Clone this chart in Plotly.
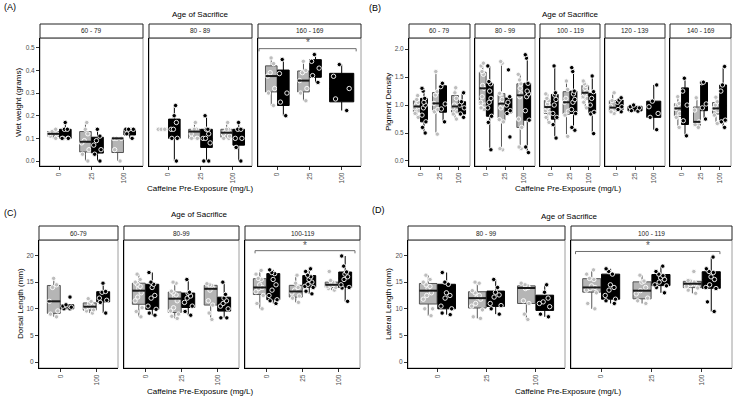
import statistics
import plotly.graph_objects as go

W, H = 733, 398

# ---------------- DATA ----------------
# Panel A: Wet weight (grams)
wet_60_79_gray = {"0": [0.10, 0.11, 0.12, 0.12, 0.13, 0.14],
                  "25": [0.0, 0.03, 0.05, 0.08, 0.09, 0.12, 0.14, 0.17],
                  "100": [0.0, 0.05, 0.10, 0.10, 0.10]}
wet_60_79_black = {"0": [0.10, 0.10, 0.10, 0.10, 0.14, 0.14, 0.17],
                   "25": [0.0, 0.03, 0.05, 0.07, 0.09, 0.11, 0.14],
                   "100": [0.10, 0.12, 0.14, 0.14, 0.14]}
wet_80_89_gray = {"0": [0.14, 0.14, 0.14, 0.14, 0.14, 0.14],
                  "25": [0.10, 0.10, 0.10, 0.12, 0.14, 0.14, 0.14, 0.17],
                  "100": [0.10, 0.10, 0.11, 0.12, 0.13, 0.14, 0.14, 0.17]}
wet_80_89_black = {"0": [0.0, 0.10, 0.10, 0.14, 0.14, 0.17, 0.20, 0.245],
                   "25": [0.0, 0.0, 0.08, 0.10, 0.10, 0.12, 0.14, 0.14, 0.20],
                   "100": [0.0, 0.06, 0.10, 0.10, 0.14, 0.14, 0.17]}
wet_160_169_gray = {"0": [0.245, 0.30, 0.32, 0.375, 0.39, 0.43, 0.455],
                    "25": [0.266, 0.30, 0.32, 0.355, 0.39, 0.40, 0.44]}
wet_160_169_black = {"0": [0.20, 0.26, 0.30, 0.386, 0.448],
                     "25": [0.347, 0.377, 0.41, 0.44, 0.47],
                     "100": [0.223, 0.274, 0.32, 0.374, 0.426]}

# Panel B: Pigment Density
pig_60_79_gray = {"0": [0.78, 0.85, 0.90, 0.95, 1.00, 1.05, 1.10, 1.17],
                  "25": [0.48, 0.88, 0.92, 1.03, 1.18, 1.24, 1.60],
                  "100": [0.75, 0.84, 0.88, 0.95, 1.00, 1.12, 1.22, 1.31]}
pig_60_79_black = {"0": [0.50, 0.60, 0.70, 0.82, 0.95, 1.00, 1.05, 1.12, 1.25, 1.30],
                   "25": [0.70, 0.93, 1.02, 1.33, 1.39],
                   "100": [0.78, 0.84, 0.95, 1.00, 1.06, 1.22]}
pig_80_99_gray = {"0": [0.92, 0.95, 1.00, 1.05, 1.15, 1.30, 1.35, 1.55, 1.60, 1.70, 1.75],
                  "25": [0.20, 0.22, 0.70, 0.74, 0.95, 1.00, 1.05, 1.10, 1.20, 1.21, 1.75, 1.78],
                  "100": [0.22, 0.25, 0.60, 0.75, 1.15, 1.20, 1.30, 1.38, 1.45, 1.55]}
pig_80_99_black = {"0": [0.20, 0.69, 0.80, 0.95, 1.05, 1.12, 1.25, 1.38, 1.42, 1.70],
                   "25": [0.43, 0.85, 0.90, 1.00, 1.05, 1.15, 1.63],
                   "100": [0.15, 0.25, 0.73, 0.90, 1.15, 1.20, 1.25, 1.39, 1.84, 1.90]}
pig_100_119_gray = {"0": [0.69, 0.78, 0.85, 0.90, 0.95, 0.98, 1.02, 1.08, 1.12, 1.20],
                    "25": [0.44, 0.82, 0.89, 1.05, 1.12, 1.28, 1.43],
                    "100": [0.95, 1.05, 1.12, 1.15, 1.20, 1.24, 1.30, 1.35, 1.38, 1.43]}
pig_100_119_black = {"0": [0.41, 0.65, 0.78, 0.85, 1.00, 1.10, 1.18, 1.22, 1.70],
                     "25": [0.55, 0.60, 0.85, 0.92, 1.05, 1.10, 1.20, 1.25, 1.60, 1.67],
                     "100": [0.49, 0.84, 0.87, 1.00, 1.12, 1.24, 1.52]}
pig_120_139_gray = {"0": [0.85, 0.88, 0.93, 0.98, 1.08, 1.22]}
pig_120_139_black = {"0": [0.88, 0.92, 0.97, 1.05, 1.09, 1.13],
                     "25": [0.89, 0.90, 0.95, 0.97, 1.00],
                     "100": [0.56, 0.78, 0.85, 0.97, 1.07, 1.36]}
pig_140_169_gray = {"0": [0.60, 0.78, 0.85, 0.94, 1.00, 1.03, 1.15],
                    "25": [0.60, 0.65, 0.70, 0.91, 1.13],
                    "100": [0.67, 0.82, 0.90, 0.94, 1.00, 1.06, 1.14]}
pig_140_169_black = {"0": [0.45, 0.72, 1.00, 1.25, 1.48],
                     "25": [0.75, 0.95, 1.02, 1.40, 1.41],
                     "100": [0.60, 0.70, 0.73, 1.25, 1.36, 1.69]}

# Panel C: Dorsal Length (mm)
dor_60_79_gray = {"0": [8.5, 9.0, 9.6, 11.4, 14.0, 14.5, 15.7],
                  "100": [9.2, 9.6, 9.8, 10.2, 10.4, 10.6, 11.0, 11.4, 11.9]}
dor_60_79_black = {"0": [10.0, 10.0, 10.3, 10.5, 10.75, 12.2],
                   "100": [9.2, 11.2, 11.6, 12.0, 13.1, 13.25, 14.8]}
dor_80_99_gray = {"0": [8.5, 9.5, 10.2, 11.5, 12.2, 13.0, 13.8, 14.2, 14.6, 15.0, 15.5, 16.5],
                  "25": [8.2, 8.6, 9.0, 9.6, 10.2, 11.5, 12.3, 12.6, 13.0, 13.3, 14.8, 15.0],
                  "100": [8.0, 9.2, 10.7, 11.5, 13.5, 14.0, 14.2, 14.4, 14.5, 14.7]}
dor_80_99_black = {"0": [8.8, 9.2, 9.9, 10.5, 12.0, 12.5, 14.0, 14.6, 15.0, 16.8],
                   "25": [8.8, 9.5, 10.5, 11.2, 12.0, 12.4, 12.9, 13.1, 15.5],
                   "100": [8.3, 8.3, 10.0, 10.5, 11.0, 11.5, 12.0, 12.7, 15.0]}
dor_100_119_gray = {"0": [10.0, 11.0, 12.5, 13.2, 13.8, 14.0, 14.5, 15.5, 15.7, 16.5, 17.2],
                    "25": [11.2, 12.0, 12.4, 13.0, 13.5, 14.0, 14.8, 16.3],
                    "100": [13.5, 13.8, 14.0, 14.2, 14.4, 14.6, 14.8, 15.0, 15.3, 17.0]}
dor_100_119_black = {"0": [11.0, 11.5, 11.7, 12.5, 13.5, 14.5, 15.5, 16.6, 16.8, 17.3],
                     "25": [12.8, 13.3, 14.0, 14.2, 14.6, 15.0, 15.5, 16.0, 16.3, 17.0, 17.5],
                     "100": [11.4, 13.9, 14.0, 14.5, 15.5, 16.0, 16.5, 16.9, 18.0, 19.9]}

# Panel D: Lateral Length (mm)
lat_80_99_gray = {"0": [8.7, 10.0, 10.0, 11.8, 12.5, 13.0, 13.8, 14.2, 14.5, 15.0, 15.5, 16.3],
                  "25": [8.2, 8.5, 9.8, 10.5, 11.0, 11.8, 12.2, 12.5, 13.0, 13.4, 14.8, 15.0],
                  "100": [8.0, 9.0, 11.0, 11.5, 13.8, 14.0, 14.1, 14.3, 14.5, 14.8]}
lat_80_99_black = {"0": [8.9, 9.2, 10.0, 10.5, 12.0, 12.5, 13.0, 14.6, 15.0, 16.8],
                   "25": [9.0, 10.0, 10.6, 11.0, 12.2, 12.6, 13.1, 14.0, 15.5],
                   "100": [8.5, 9.0, 10.4, 11.0, 11.3, 12.0, 13.1, 14.5]}
lat_100_119_gray = {"0": [10.0, 11.0, 13.0, 13.5, 13.8, 14.0, 14.3, 15.5, 15.7, 16.5, 17.3],
                    "25": [11.0, 11.5, 12.0, 12.8, 13.4, 14.0, 15.0, 15.2, 16.3],
                    "100": [12.9, 13.5, 13.9, 14.2, 14.5, 14.7, 14.9, 15.0, 15.2, 15.3, 17.0]}
lat_100_119_black = {"0": [11.0, 11.5, 11.8, 12.5, 13.5, 14.0, 14.5, 16.5, 17.0, 17.5],
                     "25": [13.0, 14.0, 14.3, 14.5, 15.0, 15.5, 15.8, 16.2, 16.5, 17.0, 18.0],
                     "100": [9.5, 11.3, 13.8, 14.0, 14.5, 15.5, 16.0, 16.8, 17.0, 17.5, 19.7]}

doses_all = ["0", "25", "100"]
doses_no25 = ["0", "100"]
ticks_A = [0.0, 0.1, 0.2, 0.3, 0.4, 0.5]
ticks_B = [0.0, 0.5, 1.0, 1.5, 2.0]
ticks_CD = [0, 5, 10, 15, 20]

# ---------------- STYLE / LAYOUT ----------------
FONT = "Liberation Sans, Arial, sans-serif"
GRAY_FILL = "#b5b5b5"
GRAY_LINE = "#555555"
GRAY_PT = "#bdbdbd"
TICK_COL = "#4d4d4d"
BORDER_COL = "#9e9e9e"

fig = go.Figure()
shapes, annotations = [], []
layout = {}
counter = [0]


def py(p):
    return 1 - p / H


def add_panel(letter, letter_pos, ylabel, ylabel_pos, title_pos, xtitle_pos,
              facets, ypx, strip_px, yrange, yticks, ytickfmt, bracket):
    for k, fac in enumerate(facets):
        counter[0] += 1
        n = counter[0]
        sfx = "" if n == 1 else str(n)
        xa, ya = f"x{sfx}", f"y{sfx}"
        cats = fac["cats"]
        x0, x1 = fac["px"]
        for i, c in enumerate(cats):
            g = fac["gray"].get(c)
            b = fac["black"].get(c)
            both = g is not None and b is not None
            for vals, side, fill, line, pt in [(g, -1, GRAY_FILL, GRAY_LINE, GRAY_PT),
                                               (b, 1, "black", "black", "black")]:
                if vals is None:
                    continue
                pos = i + side * 0.1875 if both else i
                w = 0.36 if both else 0.75
                fig.add_trace(go.Box(
                    x=[pos] * len(vals), y=vals, width=w,
                    xaxis=xa, yaxis=ya, fillcolor=fill,
                    line=dict(color=line, width=1),
                    boxpoints="all", jitter=0.8, pointpos=0,
                    whiskerwidth=0,
                    marker=dict(color=pt, size=4.4,
                                line=dict(color="white", width=0.9)),
                    showlegend=False, hoverinfo="y"))
                if fill == GRAY_FILL and min(vals) != max(vals):
                    med = statistics.median(vals)
                    fig.add_trace(go.Scatter(
                        x=[pos - w / 2, pos + w / 2], y=[med, med],
                        xaxis=xa, yaxis=ya, mode="lines",
                        line=dict(color="#1a1a1a", width=2),
                        showlegend=False, hoverinfo="skip"))
        layout[f"xaxis{sfx}"] = dict(
            domain=[x0 / W, x1 / W], anchor=ya,
            range=[-0.6, len(cats) - 0.4],
            tickmode="array", tickvals=list(range(len(cats))), ticktext=cats,
            tickangle=-90, ticks="outside", ticklen=3, tickcolor="#333333",
            tickfont=dict(size=6.5, color=TICK_COL, family=FONT),
            showline=True, linecolor="black", linewidth=1,
            showgrid=False, zeroline=False, fixedrange=True)
        first = k == 0
        layout[f"yaxis{sfx}"] = dict(
            domain=[py(ypx[1]), py(ypx[0])], anchor=xa,
            range=yrange, tickmode="array", tickvals=yticks,
            ticktext=[ytickfmt.format(v) for v in yticks],
            showticklabels=first, ticks="outside" if first else "",
            ticklen=3, tickcolor="#333333",
            tickfont=dict(size=6.5, color=TICK_COL, family=FONT),
            showline=True, linecolor="black", linewidth=1,
            showgrid=False, zeroline=False, fixedrange=True)
        # gray panel border
        shapes.append(dict(type="rect", xref=f"{xa} domain", yref=f"{ya} domain",
                           x0=0, x1=1, y0=0, y1=1,
                           line=dict(color=BORDER_COL, width=1), layer="below"))
        # strip
        shapes.append(dict(type="rect", xref=f"{xa} domain", yref="paper",
                           x0=0, x1=1, y0=py(strip_px[1]), y1=py(strip_px[0]),
                           fillcolor="white", line=dict(color="#222222", width=1)))
        annotations.append(dict(xref=f"{xa} domain", yref="paper", x=0.5,
                                y=py((strip_px[0] + strip_px[1]) / 2),
                                text=fac["label"], showarrow=False,
                                font=dict(size=6.5, color="#1a1a1a", family=FONT),
                                xanchor="center", yanchor="middle"))
        if bracket is not None and k == len(facets) - 1:
            bx0, bx1, ylow, yhi, ystar = bracket
            shapes.append(dict(type="path", xref=xa, yref=ya,
                               path=f"M {bx0},{ylow} L {bx0},{yhi} L {bx1},{yhi} L {bx1},{ylow}",
                               line=dict(color="#6e6e6e", width=1)))
            annotations.append(dict(xref=xa, yref=ya, x=(bx0 + bx1) / 2, y=ystar,
                                    text="*", showarrow=False,
                                    font=dict(size=10, color="#555555", family=FONT),
                                    xanchor="center", yanchor="middle"))
    annotations.append(dict(xref="paper", yref="paper", x=letter_pos[0] / W, y=py(letter_pos[1]),
                            text=letter, showarrow=False, xanchor="left", yanchor="middle",
                            font=dict(size=9, color="black", family=FONT)))
    annotations.append(dict(xref="paper", yref="paper", x=title_pos[0] / W, y=py(title_pos[1]),
                            text="Age of Sacrifice", showarrow=False, xanchor="center",
                            yanchor="middle", font=dict(size=8, color="black", family=FONT)))
    annotations.append(dict(xref="paper", yref="paper", x=xtitle_pos[0] / W, y=py(xtitle_pos[1]),
                            text="Caffeine Pre-Exposure (mg/L)", showarrow=False,
                            xanchor="center", yanchor="middle",
                            font=dict(size=8, color="black", family=FONT)))
    annotations.append(dict(xref="paper", yref="paper", x=ylabel_pos[0] / W, y=py(ylabel_pos[1]),
                            text=ylabel, showarrow=False, textangle=-90,
                            xanchor="center", yanchor="middle",
                            font=dict(size=8, color="black", family=FONT)))


add_panel("(A)", (2, 7), "Wet weight (grams)", (18, 102), (200, 15), (200, 188),
          [dict(label="60 - 79", cats=doses_all, gray=wet_60_79_gray, black=wet_60_79_black, px=(40, 143)),
           dict(label="80 - 89", cats=doses_all, gray=wet_80_89_gray, black=wet_80_89_black, px=(149, 252)),
           dict(label="160 - 169", cats=doses_all, gray=wet_160_169_gray, black=wet_160_169_black, px=(258, 361))],
          (38, 166), (24, 38), [-0.022, 0.543], ticks_A, "{:.1f}",
          (-0.57, 2.45, 0.484, 0.496, 0.522))

add_panel("(B)", (367, 8), "Pigment Density", (388, 102), (570, 15), (568, 188),
          [dict(label="60 - 79", cats=doses_all, gray=pig_60_79_gray, black=pig_60_79_black, px=(409, 470)),
           dict(label="80 - 99", cats=doses_all, gray=pig_80_99_gray, black=pig_80_99_black, px=(475, 535)),
           dict(label="100 - 119", cats=doses_all, gray=pig_100_119_gray, black=pig_100_119_black, px=(540, 600)),
           dict(label="120 - 139", cats=doses_all, gray=pig_120_139_gray, black=pig_120_139_black, px=(605, 665)),
           dict(label="140 - 169", cats=doses_all, gray=pig_140_169_gray, black=pig_140_169_black, px=(670, 731))],
          (38, 166), (24, 38), [-0.09, 2.2], ticks_B, "{:.1f}", None)

add_panel("(C)", (2, 213), "Dorsal Length (mm)", (20, 304), (199, 215), (200, 391),
          [dict(label="60-79", cats=doses_no25, gray=dor_60_79_gray, black=dor_60_79_black, px=(39, 118)),
           dict(label="80-99", cats=doses_all, gray=dor_80_99_gray, black=dor_80_99_black, px=(124, 239)),
           dict(label="100-119", cats=doses_all, gray=dor_100_119_gray, black=dor_100_119_black, px=(245, 360))],
          (240, 368), (226, 240), [-1.1, 22.9], ticks_CD, "{:d}",
          (-0.32, 2.46, 20.4, 20.9, 21.8))

add_panel("(D)", (370, 210), "Lateral Length (mm)", (388, 304), (569, 216), (568, 391),
          [dict(label="80 - 99", cats=doses_all, gray=lat_80_99_gray, black=lat_80_99_black, px=(408, 565)),
           dict(label="100 - 119", cats=doses_all, gray=lat_100_119_gray, black=lat_100_119_black, px=(571, 732))],
          (240, 368), (226, 240), [-1.1, 22.9], ticks_CD, "{:d}",
          (-0.51, 2.36, 20.25, 20.75, 21.9))

fig.update_layout(
    width=W, height=H, margin=dict(l=0, r=0, t=0, b=0),
    plot_bgcolor="white", paper_bgcolor="white",
    font=dict(family=FONT), showlegend=False,
    shapes=shapes, annotations=annotations, boxmode="overlay",
    **layout)

fig.write_html("out.html", config={"displayModeBar": False},
               post_script="document.body.style.margin='0';document.body.style.overflow='hidden';")
